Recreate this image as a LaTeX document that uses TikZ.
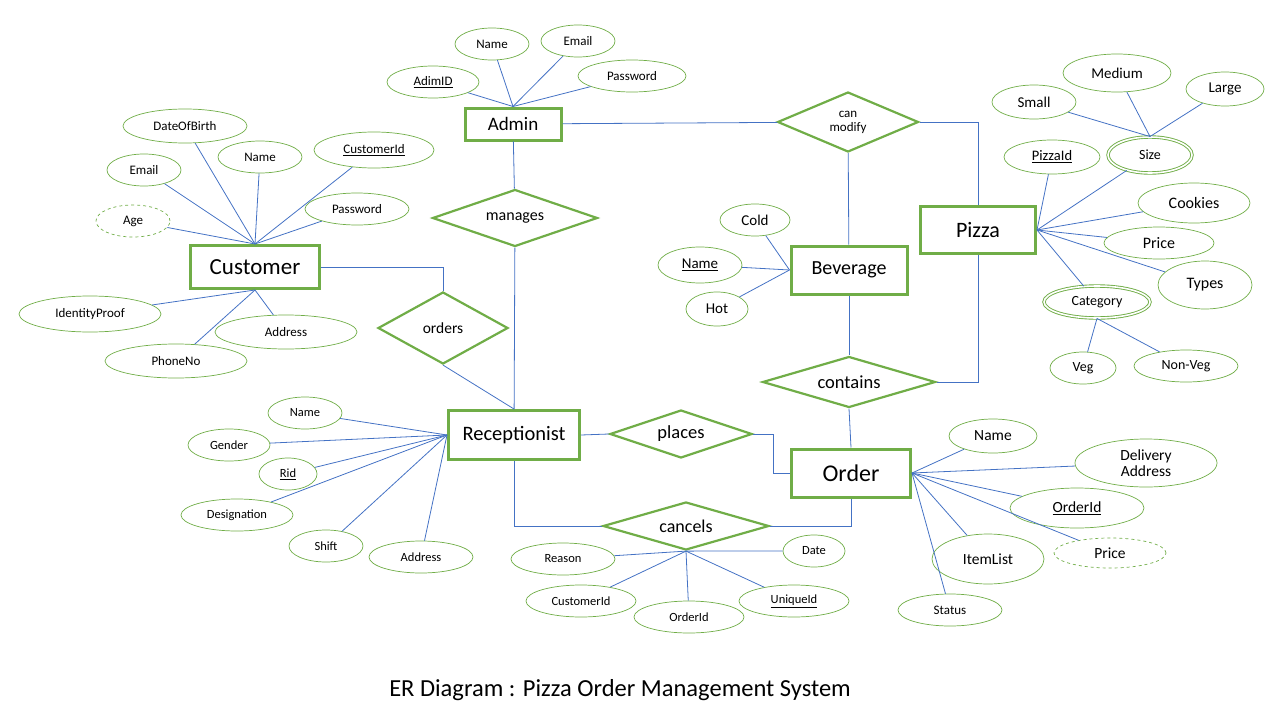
\documentclass[tikz,border=0pt]{standalone}
\usepackage{fontspec}
\setmainfont{Carlito}
\usepackage{tikz}
\usetikzlibrary{shapes.geometric}
\definecolor{ergreen}{RGB}{112,173,71}
\definecolor{erblue}{RGB}{68,114,196}
\tikzstyle{entity}=[draw=ergreen, line width=3pt, rectangle, inner sep=0pt]
\tikzstyle{relation}=[draw=ergreen, line width=2.2pt, diamond, aspect=3, inner sep=0pt, align=center]
\tikzstyle{attrib}=[draw=ergreen, line width=0.7pt, ellipse, inner sep=0pt, align=center]
\tikzstyle{derived}=[attrib, dashed]
\tikzstyle{multi}=[attrib, double, double distance=1.6pt, line width=0.9pt]
\tikzstyle{link}=[draw=erblue, line width=0.8pt]
\tikzset{sz/.style 2 args={minimum width=#1pt, minimum height=#2pt}}
\newcommand{\fs}[1]{\fontsize{#1}{#1}\selectfont}

\begin{document}
\begin{tikzpicture}[x=1pt, y=-1pt]
      \useasboundingbox (0,0) rectangle (1280,720);

      % entities
      \node[entity, sz={96}{32}, font=\fs{19}] (admin) at (513,124) {Admin};
      \node[entity, sz={129}{43}, font=\fs{23}] (customer) at (255,267) {Customer};
      \node[entity, sz={115}{47}, font=\fs{22}] (pizza) at (978,230) {Pizza};
      \node[entity, sz={116}{48}, font=\fs{20}] (beverage) at (849,270) {Beverage};
      \node[entity, sz={131}{49}, font=\fs{20.5}] (receptionist) at (514,435) {Receptionist};
      \node[entity, sz={119}{48}, font=\fs{24}] (order) at (851,473) {Order};

      % relationships
      \node[relation, sz={141}{60}, aspect=2.4, font=\fs{13}] (canModify) at (848,122) {can\\[1pt]modify};
      \node[relation, sz={165}{57}, font=\fs{16}] (manages) at (515,218) {manages};
      \node[relation, sz={130}{72}, aspect=1.8, font=\fs{15.5}] (orders) at (443,328) {orders};
      \node[relation, sz={173}{51}, font=\fs{18.5}] (contains) at (849,382) {contains};
      \node[relation, sz={142}{48}, font=\fs{18.5}] (places) at (681,434) {places};
      \node[relation, sz={166}{48}, font=\fs{18}] (cancels) at (686,526) {cancels};

      % admin attributes
      \node[attrib, sz={92}{32}, font=\fs{13}] (adminId) at (433,82) {\underline{AdimID}};
      \node[attrib, sz={74}{32}, font=\fs{13}] (adminName) at (492,44) {Name};
      \node[attrib, sz={74}{32}, font=\fs{13}] (adminEmail) at (578,41) {Email};
      \node[attrib, sz={108}{32}, font=\fs{13}] (adminPass) at (632,76) {Password};

      % customer attributes
      \node[attrib, sz={124}{34}, font=\fs{13}] (custDob) at (185,126) {DateOfBirth};
      \node[attrib, sz={74}{32}, font=\fs{13}] (custEmail) at (144,170) {Email};
      \node[attrib, sz={84}{32}, font=\fs{13}] (custName) at (260,157) {Name};
      \node[attrib, sz={120}{36}, font=\fs{13}] (custId) at (374,150) {\underline{CustomerId}};
      \node[attrib, sz={104}{32}, font=\fs{13}] (custPass) at (357,209) {Password};
      \node[derived, sz={74}{32}, font=\fs{13}] (custAge) at (133,221) {Age};
      \node[attrib, sz={142}{36}, font=\fs{13}] (custProof) at (90,314) {IdentityProof};
      \node[attrib, sz={142}{34}, font=\fs{13}] (custAddr) at (286,332) {Address};
      \node[attrib, sz={142}{34}, font=\fs{13}] (custPhone) at (176,361) {PhoneNo};

      % pizza attributes
      \node[attrib, sz={96}{34}, font=\fs{14.5}] (pizzaId) at (1052,157) {\underline{PizzaId}};
      \node[multi, sz={84}{36}, font=\fs{14}] (pizzaSize) at (1150,155) {Size};
      \node[attrib, sz={112}{40}, font=\fs{16}] (pizzaCookies) at (1194,203) {Cookies};
      \node[attrib, sz={110}{32}, font=\fs{16}] (pizzaPrice) at (1159,243) {Price};
      \node[attrib, sz={94}{48}, font=\fs{16}] (pizzaTypes) at (1205,285) {Types};
      \node[multi, sz={106}{32}, font=\fs{14}] (pizzaCat) at (1097,302) {Category};
      \node[attrib, sz={84}{34}, font=\fs{15}] (sizeSmall) at (1034,102) {Small};
      \node[attrib, sz={108}{38}, font=\fs{15}] (sizeMedium) at (1117,73) {Medium};
      \node[attrib, sz={78}{34}, font=\fs{15}] (sizeLarge) at (1225,89) {Large};
      \node[attrib, sz={66}{32}, font=\fs{14}] (catVeg) at (1083,368) {Veg};
      \node[attrib, sz={104}{32}, font=\fs{14}] (catNonVeg) at (1186,366) {Non-Veg};

      % beverage attributes
      \node[attrib, sz={70}{32}, font=\fs{15}] (bevCold) at (755,220) {Cold};
      \node[attrib, sz={84}{36}, font=\fs{15}] (bevName) at (700,265) {\underline{Name}};
      \node[attrib, sz={62}{34}, font=\fs{15}] (bevHot) at (717,309) {Hot};

      % receptionist attributes
      \node[attrib, sz={74}{32}, font=\fs{12.5}] (recName) at (305,413) {Name};
      \node[attrib, sz={82}{32}, font=\fs{12.5}] (recGender) at (229,445) {Gender};
      \node[attrib, sz={58}{32}, font=\fs{12.5}] (recId) at (288,474) {\underline{Rid}};
      \node[attrib, sz={112}{32}, font=\fs{12.5}] (recDesig) at (237,515) {Designation};
      \node[attrib, sz={74}{32}, font=\fs{12.5}] (recShift) at (326,546) {Shift};
      \node[attrib, sz={104}{32}, font=\fs{12.5}] (recAddr) at (421,557) {Address};

      % cancels attributes
      \node[attrib, sz={104}{32}, font=\fs{12.5}] (canReason) at (563,559) {Reason};
      \node[attrib, sz={62}{32}, font=\fs{12.5}] (canDate) at (814,551) {Date};
      \node[attrib, sz={110}{32}, font=\fs{12.5}] (canCust) at (581,601) {CustomerId};
      \node[attrib, sz={110}{32}, font=\fs{12.5}] (canOrder) at (689,617) {OrderId};
      \node[attrib, sz={110}{32}, font=\fs{12.5}] (canUnique) at (794,601) {\underline{UniqueId}};

      % order attributes
      \node[attrib, sz={88}{34}, font=\fs{15.5}] (ordName) at (993,436) {Name};
      \node[attrib, sz={142}{48}, font=\fs{15.5}] (ordAddr) at (1146,463) {Delivery\\Address};
      \node[attrib, sz={134}{40}, font=\fs{15.5}] (ordId) at (1077,508) {\underline{OrderId}};
      \node[derived, sz={112}{30}, font=\fs{15.5}] (ordPrice) at (1110,553) {Price};
      \node[attrib, sz={112}{50}, font=\fs{15.5}] (ordItems) at (988,559) {ItemList};
      \node[attrib, sz={104}{32}, font=\fs{13}] (ordStatus) at (950,610) {Status};

      \node[font=\fs{24.5}] (title) at (620,690) {ER Diagram : Pizza Order Management System};

      % relationship links
      \draw[link] (admin) -- (canModify);
      \draw[link] (canModify.east) -| (pizza.north);
      \draw[link] (canModify) -- (beverage);
      \draw[link] (admin) -- (manages);
      \draw[link] (manages) -- (receptionist);
      \draw[link] (customer.east) -| (orders.north);
      \draw[link] (orders.south) -- (receptionist.north);
      \draw[link] (beverage) -- (contains);
      \draw[link] (contains.east) -| (pizza.south);
      \draw[link] (contains.south) -- (order.north);
      \draw[link] (receptionist.east) -- (places.west);
      \draw[link] (places.east) -- ++(20,0) |- (order.west);
      \draw[link] (receptionist.south) |- (cancels.west);
      \draw[link] (cancels.east) -| (order.south);

      % attribute links
      \foreach \a in {adminId, adminName, adminEmail, adminPass}{
        \draw[link] (admin.north) -- (\a);
      }
      \foreach \a in {custDob, custEmail, custName, custId, custPass, custAge}{
        \draw[link] (customer.north) -- (\a);
      }
      \foreach \a in {custProof, custAddr, custPhone}{
        \draw[link] (customer.south) -- (\a);
      }
      \foreach \a in {pizzaId, pizzaSize, pizzaCookies, pizzaPrice, pizzaTypes, pizzaCat}{
        \draw[link] (pizza.east) -- (\a);
      }
      \foreach \a in {sizeSmall, sizeMedium, sizeLarge}{
        \draw[link] (pizzaSize.north) -- (\a);
      }
      \foreach \a in {catVeg, catNonVeg}{
        \draw[link] (pizzaCat.south) -- (\a);
      }
      \foreach \a in {bevCold, bevName, bevHot}{
        \draw[link] (beverage.west) -- (\a);
      }
      \foreach \a in {recName, recGender, recId, recDesig, recShift, recAddr}{
        \draw[link] (receptionist.west) -- (\a);
      }
      \foreach \a in {canReason, canDate, canCust, canOrder, canUnique}{
        \draw[link] (cancels.south) -- (\a);
      }
      \foreach \a in {ordName, ordAddr, ordId, ordPrice, ordItems, ordStatus}{
        \draw[link] (order.east) -- (\a);
      }

    \end{tikzpicture}
\end{document}
